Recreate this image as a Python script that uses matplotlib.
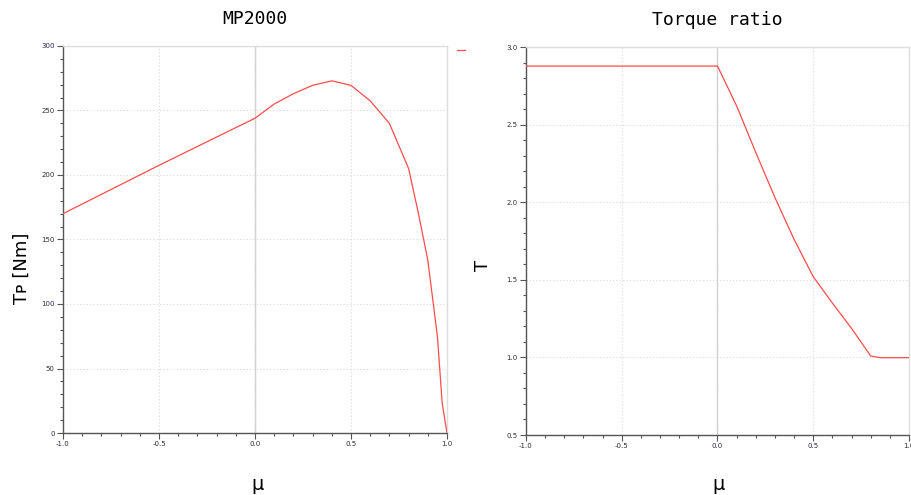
import matplotlib
matplotlib.use("Agg")
import matplotlib.pyplot as plt
from matplotlib.ticker import MultipleLocator
from matplotlib.lines import Line2D

plt.rcParams["axes.unicode_minus"] = False

# Data
mu_tp = [-1.0, -0.5, 0.0, 0.1, 0.2, 0.3, 0.4, 0.5, 0.6, 0.7, 0.8, 0.85, 0.9, 0.95, 0.975, 1.0]
tp_vals = [170, 207.5, 244, 255, 263, 269.5, 273, 269.5, 257.5, 240, 205, 171, 134, 75, 23, 0]

mu_tau = [-1.0, 0.0, 0.1, 0.2, 0.3, 0.4, 0.5, 0.6, 0.7, 0.8, 0.85, 1.0]
tau_vals = [2.877, 2.877, 2.62, 2.32, 2.03, 1.76, 1.52, 1.35, 1.187, 1.009, 0.998, 0.998]

title_left = "MP2000"
title_right = "Torque ratio"
xlabel = "μ"
ylabel_left = "Tᴘ [Nm]"
ylabel_right = "T"

W, H = 912, 495
fig = plt.figure(figsize=(W / 100, H / 100), dpi=100)

def make_ax(x0, x1, y0, y1):
    return fig.add_axes([x0 / W, 1 - y1 / H, (x1 - x0) / W, (y1 - y0) / H])

ax1 = make_ax(63, 447, 46, 433)
ax2 = make_ax(526, 909, 47, 435)

line_color = "#ff4b4b"
tick_color = "#2a2a4a"

def style(ax, ymajor, yminor):
    ax.set_xlim(-1, 1)
    ax.xaxis.set_major_locator(MultipleLocator(0.5))
    ax.xaxis.set_minor_locator(MultipleLocator(0.1))
    ax.yaxis.set_major_locator(MultipleLocator(ymajor))
    ax.yaxis.set_minor_locator(MultipleLocator(yminor))
    ax.grid(True, which="major", linestyle=(0, (1, 2)), color="#d8d8d8", linewidth=0.8)
    ax.axvline(0, color="#d0d0d0", linewidth=1.0, zorder=1)
    for s in ["top", "right"]:
        ax.spines[s].set_color("#dddddd")
        ax.spines[s].set_linewidth(1.0)
    for s in ["left", "bottom"]:
        ax.spines[s].set_color("#555555")
        ax.spines[s].set_linewidth(1.0)
    ax.tick_params(which="major", direction="out", length=4, width=0.8, color="#555555",
                   labelsize=5, labelcolor=tick_color, pad=2)
    ax.tick_params(which="minor", direction="out", length=2.5, width=0.8, color="#555555")
    ax.set_xlabel(xlabel, fontsize=14)
    ax.xaxis.label.set_va("center")
    ax.yaxis.label.set_va("center")

def place_labels(ax, x0, x1, y0, y1, ylab_px, xlab_py):
    ax.yaxis.set_label_coords((ylab_px[0] - x0) / (x1 - x0), (y1 - ylab_px[1]) / (y1 - y0))
    ax.xaxis.set_label_coords((xlab_py[0] - x0) / (x1 - x0), (y1 - xlab_py[1]) / (y1 - y0))

ax1.plot(mu_tp, tp_vals, color=line_color, linewidth=0.9, zorder=3)
ax1.set_ylim(0, 300)
style(ax1, 50, 10)
ax1.set_title(title_left, family="DejaVu Sans Mono", fontsize=13, pad=15.5)
ax1.set_ylabel(ylabel_left, fontsize=13)
place_labels(ax1, 63, 447, 46, 433, (22, 268), (258, 484))
ax1.legend(handles=[Line2D([], [], color=line_color, linewidth=0.9)], labels=[""],
           loc="upper left", bbox_to_anchor=(1.0, 1.03), frameon=False,
           handlelength=0.6, handletextpad=0, borderaxespad=0.3)

ax2.plot(mu_tau, tau_vals, color=line_color, linewidth=0.9, zorder=3)
ax2.set_ylim(0.5, 3.0)
style(ax2, 0.5, 0.1)
ax2.set_title(title_right, family="DejaVu Sans Mono", fontsize=13, pad=15.5)
ax2.set_ylabel(ylabel_right, fontsize=13)
place_labels(ax2, 526, 909, 47, 435, (483, 265), (719, 484))

fig.savefig("out.png", dpi=100)
